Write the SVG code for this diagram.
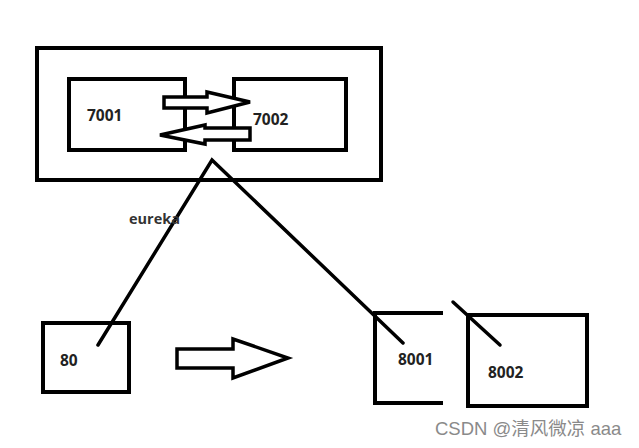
<svg xmlns="http://www.w3.org/2000/svg" width="639" height="448" viewBox="0 0 639 448">
<style>
.box{fill:none;stroke:#000;stroke-width:4}
.ln{fill:none;stroke:#000;stroke-width:3.5;stroke-linecap:round}
.arr{fill:#fff;stroke:#000;stroke-width:3.5;stroke-linejoin:miter}
.lbl{font-family:"Open Sans","Noto Sans",sans-serif;font-weight:bold;font-size:15.5px;fill:#222}
.wm{font-family:"Liberation Sans","Noto Sans CJK SC",sans-serif;font-size:18.5px;fill:#8a8a8a}
</style>
<rect width="639" height="448" fill="#fff"/>
<g id="cluster">
<rect class="box" x="37" y="48" width="344" height="132"/>
</g>
<g id="n7001">
<rect class="box" x="69" y="79" width="116" height="71"/>
<text class="lbl" x="87" y="121">7001</text>
</g>
<g id="n7002">
<rect class="box" x="234" y="79" width="112" height="71"/>
<text class="lbl" x="253" y="125">7002</text>
</g>
<g id="n80">
<rect class="box" x="43" y="323" width="86" height="69"/>
<text class="lbl" x="60" y="366">80</text>
</g>
<g id="n8001">
<polyline class="box" points="443,313 375,313 375,403 443,403"/>
<text class="lbl" x="398" y="365">8001</text>
</g>
<g id="n8002">
<rect class="box" x="468" y="315" width="119" height="91"/>
<text class="lbl" x="488" y="378">8002</text>
</g>
<g id="connectors">
<polygon class="arr" points="164,97 207,97 207,92 250,102 207,113 207,108 164,108"/>
<polygon class="arr" points="250,128 205,128 205,125 160,135 205,144 205,140 250,140"/>
<polyline class="ln" points="98,345 212,160 403,343"/>
<line class="ln" x1="453" y1="302" x2="500" y2="345"/>
<polygon class="arr" points="177,349 233,349 233,339 288,358 233,378 233,368 177,368"/>
<text class="lbl" x="129" y="224" style="font-size:14.5px;fill:#333">eureka</text>
</g>
<text class="wm" x="435" y="435">CSDN @清风微凉 aaa</text>
</svg>
